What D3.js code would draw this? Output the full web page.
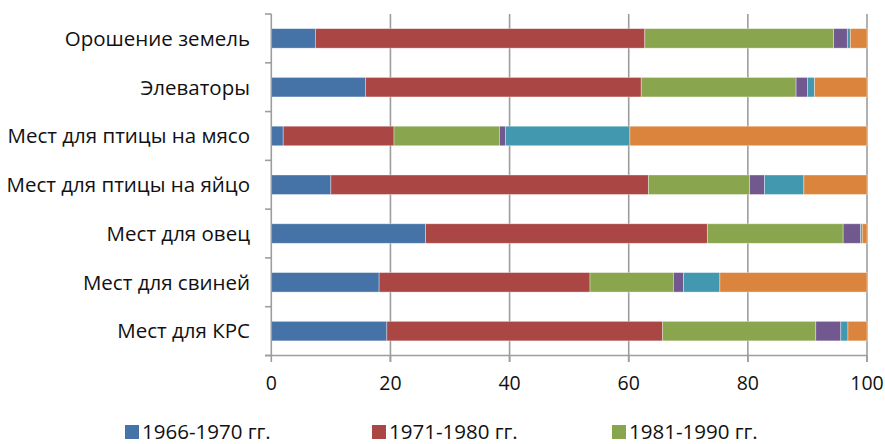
<!DOCTYPE html>
<html>
<head>
<meta charset="utf-8">
<script src="https://cdn.jsdelivr.net/npm/d3@7"></script>
<style>
  html, body { margin: 0; padding: 0; background: #fff; overflow: hidden; }
  svg { display: block; }
</style>
</head>
<body>
<svg id="chart" width="885" height="444"></svg>
<script>
// ---- data ----
const categories = [
  "Орошение земель",
  "Элеваторы",
  "Мест для птицы на мясо",
  "Мест для птицы на яйцо",
  "Мест для овец",
  "Мест для свиней",
  "Мест для КРС"
];
const seriesNames = ["1966-1970 гг.", "1971-1980 гг.", "1981-1990 гг.", "серия 4", "серия 5", "серия 6"];
// values in percent, one per category (same order as categories)
const s1966 = [7.4, 15.8, 2.0, 10.0, 25.9, 18.1, 19.4];
const s1971 = [55.3, 46.3, 18.6, 53.3, 47.3, 35.4, 46.3];
const s1981 = [31.7, 26.0, 17.7, 17.0, 22.8, 14.0, 25.7];
const s4 = [2.3, 1.9, 1.0, 2.5, 2.9, 1.7, 4.2];
const s5 = [0.5, 1.2, 20.9, 6.6, 0.3, 6.1, 1.2];
const s6 = [2.8, 8.8, 39.8, 10.6, 0.8, 24.7, 3.2];
const xTicks = [0, 20, 40, 60, 80, 100];
// legend entries visible in the picture (remaining rows fall below the frame)
const legendVisible = 3;

const colors = ["#4572A7", "#AA4643", "#89A54E", "#71588F", "#4198AF", "#DB843D"];

// ---- build ----
const seriesValues = [s1966, s1971, s1981, s4, s5, s6];
const rows = categories.map((c, i) => {
  const r = { cat: c };
  seriesNames.forEach((s, j) => r[s] = seriesValues[j][i]);
  return r;
});
const stacked = d3.stack().keys(seriesNames)(rows);

const svg = d3.select("#chart");
const x = d3.scaleLinear().domain([0, 100]).range([271.3, 867]);
const y = d3.scaleBand().domain(categories).range([14, 355.5]).paddingInner(0.6).paddingOuter(0.3);

const gridColor = "#9d9d9d";
const font = "'Open Sans', sans-serif";

// vertical gridlines
svg.append("g").selectAll("line").data(xTicks.filter(d => d > 0)).join("line")
  .attr("x1", d => x(d)).attr("x2", d => x(d))
  .attr("y1", 14).attr("y2", 362)
  .attr("stroke", gridColor).attr("stroke-width", 1.6);

// bars
const colorOf = d3.scaleOrdinal().domain(seriesNames).range(colors);
svg.append("g").selectAll("g").data(stacked).join("g")
  .attr("fill", d => colorOf(d.key))
  .selectAll("rect").data(d => d).join("rect")
  .attr("x", d => x(d[0]))
  .attr("width", d => Math.max(0, x(d[1]) - x(d[0])))
  .attr("y", d => y(d.data.cat))
  .attr("height", y.bandwidth())
  .attr("stroke", "#ffffff").attr("stroke-opacity", 0.45).attr("stroke-width", 0.8);

// y axis (category boundaries as ticks)
const step = y.step();
const y0 = y.range()[0];
const yBounds = d3.range(categories.length + 1).map(i => y0 + i * step);
const ax = svg.append("g");
ax.append("line").attr("x1", x(0)).attr("x2", x(0)).attr("y1", y0).attr("y2", y.range()[1])
  .attr("stroke", gridColor).attr("stroke-width", 1.6);
ax.selectAll("line.yt").data(yBounds).join("line").attr("class", "yt")
  .attr("x1", 265).attr("x2", x(0)).attr("y1", d => d).attr("y2", d => d)
  .attr("stroke", gridColor).attr("stroke-width", 1.6);
// x axis line
ax.append("line").attr("x1", 265).attr("x2", x(100)).attr("y1", y.range()[1]).attr("y2", y.range()[1])
  .attr("stroke", gridColor).attr("stroke-width", 1.6);
ax.selectAll("line.xt").data(xTicks).join("line").attr("class", "xt")
  .attr("x1", d => x(d)).attr("x2", d => x(d)).attr("y1", y.range()[1]).attr("y2", 362)
  .attr("stroke", gridColor).attr("stroke-width", 1.6);

// x tick labels
svg.append("g").selectAll("text").data(xTicks).join("text")
  .attr("x", d => x(d)).attr("y", 390)
  .attr("text-anchor", "middle")
  .attr("font-family", font).attr("font-size", 19.5).attr("fill", "#111")
  .text(d => d);

// category labels
svg.append("g").selectAll("text").data(categories).join("text")
  .attr("x", 250).attr("y", d => y(d) + y.bandwidth() / 2)
  .attr("dy", "0.36em")
  .attr("text-anchor", "end")
  .attr("font-family", font).attr("font-size", 20.5).attr("fill", "#111")
  .text(d => d);

// legend
const legendX = [125, 372, 612];
const lg = svg.append("g").selectAll("g").data(seriesNames.slice(0, legendVisible)).join("g")
  .attr("transform", (d, i) => `translate(${legendX[i]},425)`);
lg.append("rect").attr("width", 14).attr("height", 14).attr("fill", d => colorOf(d));
lg.append("text").attr("x", 17).attr("y", 13.5)
  .attr("font-family", font).attr("font-size", 20.5).attr("fill", "#111")
  .text(d => d);
</script>
</body>
</html>
